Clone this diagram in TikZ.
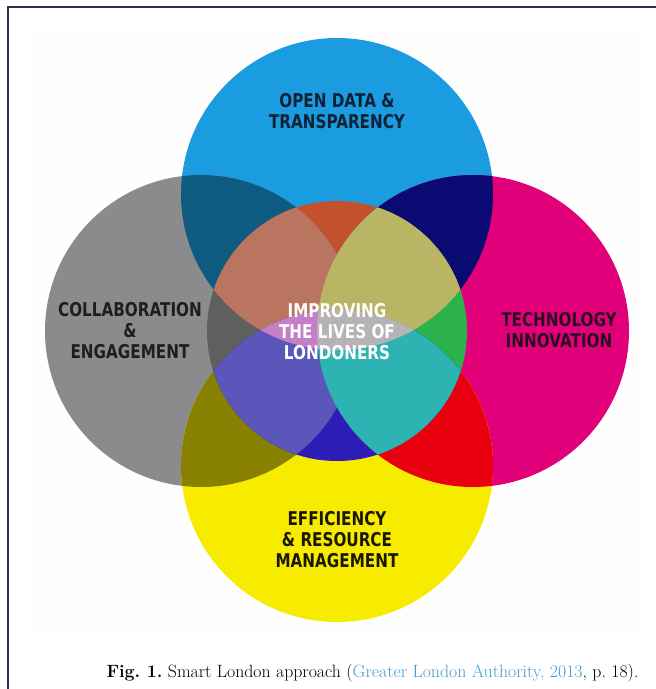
\documentclass[tikz,border=0pt]{standalone}
\usepackage{fontspec}
\newfontfamily\vennfont{DejaVu Sans}[FakeStretch=0.8]
\definecolor{skyc}{HTML}{1B9BE0}
\definecolor{grayc}{HTML}{8B8B8D}
\definecolor{magc}{HTML}{E2007A}
\definecolor{yelc}{HTML}{F7EC00}
\definecolor{bgc}{HTML}{0D5B80}
\definecolor{bmc}{HTML}{0A0A72}
\definecolor{gyc}{HTML}{878000}
\definecolor{myc}{HTML}{E8000F}
\definecolor{orangec}{HTML}{C4512E}
\definecolor{dgrayc}{HTML}{5F5F5F}
\definecolor{greenc}{HTML}{2BB24C}
\definecolor{dbluec}{HTML}{2D1CB5}
\definecolor{salmonc}{HTML}{B97560}
\definecolor{khakic}{HTML}{B9B564}
\definecolor{slatec}{HTML}{5A56BA}
\definecolor{tealc}{HTML}{2EB3B3}
\definecolor{pinkc}{HTML}{C47FC7}
\definecolor{lgrayc}{HTML}{B5B3B5}
\definecolor{inkblue}{HTML}{0E2236}
\definecolor{inkgray}{HTML}{1E1E1E}
\definecolor{inkmag}{HTML}{2B0D22}
\definecolor{inkyel}{HTML}{1A1800}
\definecolor{linkc}{HTML}{4A9AD0}
\definecolor{framec}{HTML}{2B3152}
\definecolor{paperc}{HTML}{FEFEFE}
\frenchspacing
\begin{document}
\begin{tikzpicture}[x=1pt,y=-1pt,
    ringtext/.style={font=\vennfont\bfseries\fontsize{19}{21}\selectfont,align=center,inner sep=0pt}]
\useasboundingbox (0,0) rectangle (656,689);
\fill[paperc] (33,30) rectangle (642,633);
\draw[framec,line width=2.4pt] (8,689) -- (8,7) -- (656,7);
\foreach \n/\x/\y in {B/337/194,G/201/331,M/473/331,Y/337/466,C/337/331}{
    \coordinate (\n) at (\x,\y);
}
\foreach \n/\c in {B/skyc,G/grayc,M/magc,Y/yelc}{
    \fill[\c] (\n) circle (156pt);
}
\foreach \a/\b/\c in {B/G/bgc,B/M/bmc,G/Y/gyc,M/Y/myc}{
    \begin{scope}
    \clip (\a) circle (156pt);
    \fill[\c] (\b) circle (156pt);
    \end{scope}
}
\begin{scope}
\clip (C) circle (130pt);
\foreach \n/\c in {B/orangec,G/dgrayc,M/greenc,Y/dbluec}{
    \fill[\c] (\n) circle (156pt);
}
\foreach \a/\b/\c in {B/G/salmonc,B/M/khakic,G/Y/slatec,M/Y/tealc,B/Y/pinkc}{
    \begin{scope}
    \clip (\a) circle (156pt);
    \fill[\c] (\b) circle (156pt);
    \end{scope}
}
\clip (B) circle (156pt);
\clip (Y) circle (156pt);
\fill[lgrayc] (M) circle (156pt);
\end{scope}
\node[ringtext,text=inkblue] (open) at (337,111.5) {OPEN DATA \&\\TRANSPARENCY};
\node[ringtext,text=inkgray] (collab) at (130,331) {COLLABORATION\\\&\\ENGAGEMENT};
\node[ringtext,text=inkmag] (tech) at (559,330.5) {TECHNOLOGY\\INNOVATION};
\node[ringtext,text=inkyel] (effic) at (337,540) {EFFICIENCY\\\& RESOURCE\\MANAGEMENT};
\node[ringtext,text=white] (lives) at (337,331.5) {IMPROVING\\THE LIVES OF\\LONDONERS};
\node[font=\fontsize{17.8}{20}\selectfont,anchor=base] (caption) at (372.5,677)
    {\textbf{Fig. 1.} Smart London approach (\textcolor{linkc}{Greater London Authority, 2013}, p. 18).};
\end{tikzpicture}
\end{document}
